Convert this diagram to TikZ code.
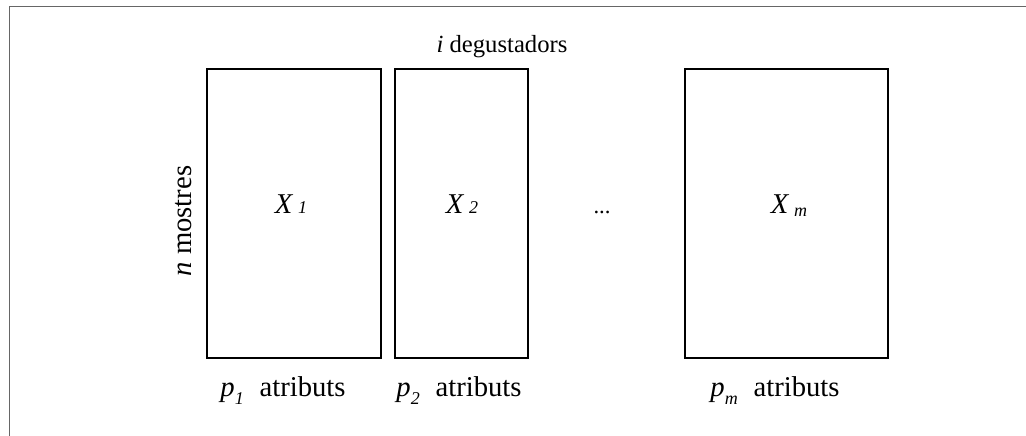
\documentclass[tikz,border=0pt]{standalone}
\usepackage{fontspec}
\setmainfont{Liberation Serif}
\newcommand{\subsz}{\fontsize{13.5}{15}\selectfont}
\begin{document}
\begin{tikzpicture}[x=0.75pt,y=-0.75pt,
  block/.style={draw=black,line width=1.5pt,outer sep=0pt,inner sep=0pt,
    minimum height=216.75pt,anchor=north west},
  lbl/.style={font=\fontsize{21.5}{25}\selectfont,inner sep=0pt},
  toplbl/.style={font=\fontsize{18.5}{22}\selectfont,inner sep=0pt},
  mat/.style={font=\fontsize{21.5}{25}\selectfont,inner sep=0pt,anchor=base},
  frame/.style={draw=black!60,line width=1.2pt}]
\useasboundingbox (0,0) rectangle (1026,436);
\clip (0,0) rectangle (1026,436);
% outer frame, running past the right and bottom edges
\draw[frame] (9.5,6.5) rectangle (1040,450);
% data blocks
\node[block,minimum width=130.5pt] (b1) at (207,69) {};
\node[block,minimum width=99.75pt] (b2) at (395,69) {};
\node[block,minimum width=152.25pt] (bm) at (685,69) {};
\node[mat] (x1) at (291,213) {\textit{X}\,{\subsz\textit{1}}};
\node[mat] (x2) at (462,213) {\textit{X}\,{\subsz\textit{2}}};
\node[mat] (xm) at (789,213) {\textit{X}\,\raisebox{-0.12em}{\subsz\textit{m}}};
\node[inner sep=0pt,font=\fontsize{17}{19}\selectfont,anchor=base] (dots) at (602,213) {...};
% labels
\node[toplbl,anchor=base] (top) at (502,52) {\textit{i} degustadors};
\node[lbl,rotate=90,anchor=base] (rows) at (191,221) {\textit{n} mostres};
\node[lbl,anchor=base] (p1) at (283,396) {\textit{p}\raisebox{-0.3em}{\subsz\textit{1}}\hspace{0.55em}atributs};
\node[lbl,anchor=base] (p2) at (459,396) {\textit{p}\raisebox{-0.3em}{\subsz\textit{2}}\hspace{0.55em}atributs};
\node[lbl,anchor=base] (pm) at (775,396) {\textit{p}\raisebox{-0.3em}{\subsz\textit{m}}\hspace{0.55em}atributs};
\end{tikzpicture}
\end{document}
